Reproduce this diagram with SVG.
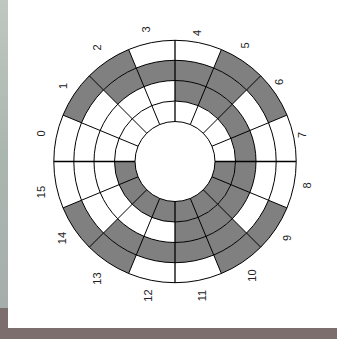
<svg xmlns="http://www.w3.org/2000/svg" width="337" height="339" viewBox="0 0 337 339">
<defs>
<linearGradient id="strip" x1="0" y1="0" x2="0" y2="1">
<stop offset="0" stop-color="#bfc8c0"/>
<stop offset="0.5" stop-color="#aab6b0"/>
<stop offset="1" stop-color="#a6aeac"/>
</linearGradient>
<style>
.g{fill:#808080;stroke:none}
.c{fill:none;stroke:#000;stroke-width:1}
.r{stroke:#000;stroke-width:1}
.ax{stroke:#000;stroke-width:1.3}
.t{font-family:"Liberation Sans",Arial,sans-serif;font-size:11px;fill:#222;text-anchor:middle}
</style>
</defs>
<g id="background">
<rect x="0" y="0" width="337" height="339" fill="#ffffff"/>
<rect x="0" y="0" width="8" height="308" fill="url(#strip)"/>
<rect x="0" y="308" width="8" height="31" fill="#7b6e6d"/>
<rect x="0" y="328" width="337" height="11" fill="#7b6e6d"/>
</g>
<g id="cells">
<path class="g" d="M63.026 115.119A121.2 121.2 0 0 1 128.619 49.526L136.273 68.003A101.2 101.2 0 0 0 81.503 122.773Z"/>
<path class="g" d="M221.381 49.526A121.2 121.2 0 0 1 286.974 115.119L268.497 122.773A101.2 101.2 0 0 0 213.727 68.003Z"/>
<path class="g" d="M286.974 207.881A121.2 121.2 0 0 1 221.381 273.474L213.727 254.997A101.2 101.2 0 0 0 268.497 200.227Z"/>
<path class="g" d="M128.619 273.474A121.2 121.2 0 0 1 63.026 207.881L81.503 200.227A101.2 101.2 0 0 0 136.273 254.997Z"/>
<path class="g" d="M103.441 89.941A101.2 101.2 0 0 1 246.559 89.941L232.276 104.224A81 81 0 0 0 117.724 104.224Z"/>
<path class="g" d="M246.559 233.059A101.2 101.2 0 0 1 103.441 233.059L117.724 218.776A81 81 0 0 0 232.276 218.776Z"/>
<path class="g" d="M175 80.5A81 81 0 0 1 175 242.5L175 222A60.5 60.5 0 0 0 175 101Z"/>
<path class="g" d="M235.5 161.5A60.5 60.5 0 0 1 114.5 161.5L135 161.5A40 40 0 0 0 215 161.5Z"/>
</g>
<g id="grid">
<circle class="c" cx="175" cy="161.5" r="40"/>
<circle class="c" cx="175" cy="161.5" r="60.5"/>
<circle class="c" cx="175" cy="161.5" r="81"/>
<circle class="c" cx="175" cy="161.5" r="101.2"/>
<circle class="c" cx="175" cy="161.5" r="121.2"/>
<line class="ax" x1="135" y1="161.5" x2="53.8" y2="161.5"/>
<line class="r" x1="138.045" y1="146.193" x2="63.026" y2="115.119"/>
<line class="r" x1="146.716" y1="133.216" x2="89.298" y2="75.798"/>
<line class="r" x1="159.693" y1="124.545" x2="128.619" y2="49.526"/>
<line class="ax" x1="175" y1="121.5" x2="175" y2="40.3"/>
<line class="r" x1="190.307" y1="124.545" x2="221.381" y2="49.526"/>
<line class="r" x1="203.284" y1="133.216" x2="260.702" y2="75.798"/>
<line class="r" x1="211.955" y1="146.193" x2="286.974" y2="115.119"/>
<line class="ax" x1="215" y1="161.5" x2="296.2" y2="161.5"/>
<line class="r" x1="211.955" y1="176.807" x2="286.974" y2="207.881"/>
<line class="r" x1="203.284" y1="189.784" x2="260.702" y2="247.202"/>
<line class="r" x1="190.307" y1="198.455" x2="221.381" y2="273.474"/>
<line class="ax" x1="175" y1="201.5" x2="175" y2="282.7"/>
<line class="r" x1="159.693" y1="198.455" x2="128.619" y2="273.474"/>
<line class="r" x1="146.716" y1="189.784" x2="89.298" y2="247.202"/>
<line class="r" x1="138.045" y1="176.807" x2="63.026" y2="207.881"/>
</g>
<g id="labels">
<text class="t" transform="translate(41.5,133.5) rotate(-90)" dy="0.35em">0</text>
<text class="t" transform="translate(63,86) rotate(-90)" dy="0.35em">1</text>
<text class="t" transform="translate(97.5,47.5) rotate(-90)" dy="0.35em">2</text>
<text class="t" transform="translate(146.5,29.5) rotate(-90)" dy="0.35em">3</text>
<text class="t" transform="translate(197,33) rotate(-90)" dy="0.35em">4</text>
<text class="t" transform="translate(245,45.5) rotate(-90)" dy="0.35em">5</text>
<text class="t" transform="translate(279,82) rotate(-90)" dy="0.35em">6</text>
<text class="t" transform="translate(302,135) rotate(-90)" dy="0.35em">7</text>
<text class="t" transform="translate(307,185.5) rotate(-90)" dy="0.35em">8</text>
<text class="t" transform="translate(287.5,238) rotate(-90)" dy="0.35em">9</text>
<text class="t" transform="translate(252,275.5) rotate(-90)" dy="0.35em">10</text>
<text class="t" transform="translate(202,295.5) rotate(-90)" dy="0.35em">11</text>
<text class="t" transform="translate(148,295.5) rotate(-90)" dy="0.35em">12</text>
<text class="t" transform="translate(97,278.5) rotate(-90)" dy="0.35em">13</text>
<text class="t" transform="translate(62,238) rotate(-90)" dy="0.35em">14</text>
<text class="t" transform="translate(41.5,192) rotate(-90)" dy="0.35em">15</text>
</g>
</svg>
